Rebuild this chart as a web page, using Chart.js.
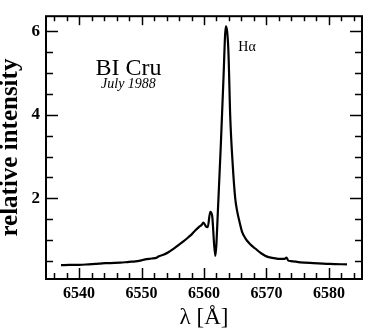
<!DOCTYPE html>
<html><head><meta charset="utf-8">
<script src="https://cdn.jsdelivr.net/npm/chart.js@4/dist/chart.umd.min.js"></script>
<style>html,body{margin:0;padding:0;background:#fff;}#wrap{width:377px;height:336px;position:relative;}</style>
</head><body><div id="wrap"><canvas id="c"></canvas></div>
<script>
// Wavelength (Å) and relative intensity
const wavelength = [6537.1,6538.5,6540.0,6541.5,6542.6,6543.4,6544.2,6545.0,6546.6,6548.0,6549.0,6549.8,6550.6,6551.6,6552.4,6552.7,6553.5,6554.3,6555.1,6555.9,6556.7,6557.5,6558.1,6558.6,6559.3,6559.6,6559.9,6560.3,6560.6,6561.0,6561.3,6561.8,6562.3,6562.7,6563.1,6563.5,6563.9,6564.2,6564.6,6565.0,6565.3,6565.7,6566.1,6566.6,6567.4,6568.2,6569.2,6570.2,6571.2,6572.2,6572.9,6573.2,6573.5,6573.9,6575.4,6577.5,6580.2,6582.9];
const intensity  = [0.40,0.41,0.41,0.42,0.43,0.44,0.45,0.45,0.46,0.48,0.49,0.51,0.54,0.56,0.58,0.61,0.65,0.71,0.79,0.88,0.97,1.07,1.15,1.23,1.33,1.36,1.42,1.33,1.31,1.68,1.59,0.62,1.95,3.30,4.80,6.12,5.55,3.96,2.80,2.00,1.70,1.43,1.20,1.05,0.90,0.80,0.68,0.60,0.57,0.55,0.55,0.58,0.51,0.50,0.47,0.45,0.43,0.42];
const xTickLabels = [6540, 6550, 6560, 6570, 6580];
const yTickLabels = [2, 4, 6];
const xMinorStep = 2;
const yMinorStep = 0.5;
const xRange = [6534.7, 6585.3];
const yRange = [0.07, 6.36];
const notes = [
  {text: 'BI Cru', x: 6547.9, y: 4.96, font: '24px "Liberation Serif"', align: 'center'},
  {text: 'July 1988', x: 6547.9, y: 4.64, font: 'italic 14px "Liberation Serif"', align: 'center'},
  {text: 'Hα', x: 6565.5, y: 5.52, font: '14px "Liberation Serif"', align: 'left'}
];

const points = wavelength.map((w, i) => ({x: w, y: intensity[i]}));
const near = (v, arr) => arr.some(a => Math.abs(a - v) < 1e-6);

const framePlugin = {
  id: 'frame',
  afterDatasetsDraw(chart) {
    const {ctx, chartArea: a, scales: {x, y}} = chart;
    ctx.save();
    ctx.strokeStyle = '#000';
    ctx.lineWidth = 1.5;
    const seg = (x1, y1, x2, y2) => { ctx.beginPath(); ctx.moveTo(x1, y1); ctx.lineTo(x2, y2); ctx.stroke(); };
    x.ticks.forEach(t => {
      const px = Math.round(x.getPixelForValue(t.value)) + 0.5;
      const major = near(t.value, xTickLabels);
      seg(px, a.bottom, px, a.bottom - (major ? 11 : 6));
      seg(px, a.top, px, a.top + (major ? 9 : 5));
    });
    y.ticks.forEach(t => {
      const py = Math.round(y.getPixelForValue(t.value)) + 0.5;
      const major = near(t.value, yTickLabels);
      seg(a.left, py, a.left + (major ? 12 : 7), py);
      seg(a.right, py, a.right - (major ? 12 : 7), py);
    });
    ctx.lineWidth = 2;
    ctx.strokeRect(a.left, a.top, a.right - a.left, a.bottom - a.top);
    ctx.fillStyle = '#000';
    ctx.textBaseline = 'alphabetic';
    notes.forEach(n => {
      ctx.font = n.font;
      ctx.textAlign = n.align;
      ctx.fillText(n.text, x.getPixelForValue(n.x), y.getPixelForValue(n.y));
    });
    ctx.restore();
  }
};

new Chart(document.getElementById('c'), {
  type: 'line',
  data: { datasets: [{ data: points, borderColor: '#000', borderWidth: 2.2, pointRadius: 0, fill: false, cubicInterpolationMode: 'monotone' }] },
  options: {
    responsive: true, maintainAspectRatio: false, animation: false,
    layout: { padding: { top: 14, right: 15, left: 0, bottom: 0 } },
    plugins: { legend: { display: false }, tooltip: { enabled: false } },
    scales: {
      x: {
        type: 'linear', min: xRange[0], max: xRange[1],
        afterBuildTicks: s => { const t = []; for (let v = 6536; v <= xRange[1]; v += xMinorStep) t.push({value: v}); s.ticks = t; },
        afterFit: s => { s.height = 57; },
        grid: { display: false, drawTicks: false, tickLength: 0 },
        border: { display: false },
        ticks: { autoSkip: false, maxRotation: 0, padding: 5, color: '#000',
          font: { family: '"Liberation Serif"', size: 16, weight: 'bold' },
          callback: v => near(v, xTickLabels) ? String(v) : '' },
        title: { display: true, text: 'λ [Å]', color: '#000', font: { family: '"Liberation Serif"', size: 23 }, padding: { top: 0, bottom: 4 } }
      },
      y: {
        type: 'linear', min: yRange[0], max: yRange[1],
        afterBuildTicks: s => { const t = []; for (let i = 1; i * yMinorStep <= 6.0001; i++) t.push({value: i * yMinorStep}); s.ticks = t; },
        afterFit: s => { s.width = 46; },
        grid: { display: false, drawTicks: false, tickLength: 0 },
        border: { display: false },
        ticks: { autoSkip: false, padding: 6, color: '#000',
          font: { family: '"Liberation Serif"', size: 17, weight: 'bold' },
          callback: v => near(v, yTickLabels) ? String(v) : '' },
        title: { display: true, text: 'relative intensity', color: '#000', font: { family: '"Liberation Serif"', size: 25, weight: 'bold', lineHeight: 0.85 }, padding: { top: 0, bottom: 0 } }
      }
    }
  },
  plugins: [framePlugin]
});
</script></body></html>
